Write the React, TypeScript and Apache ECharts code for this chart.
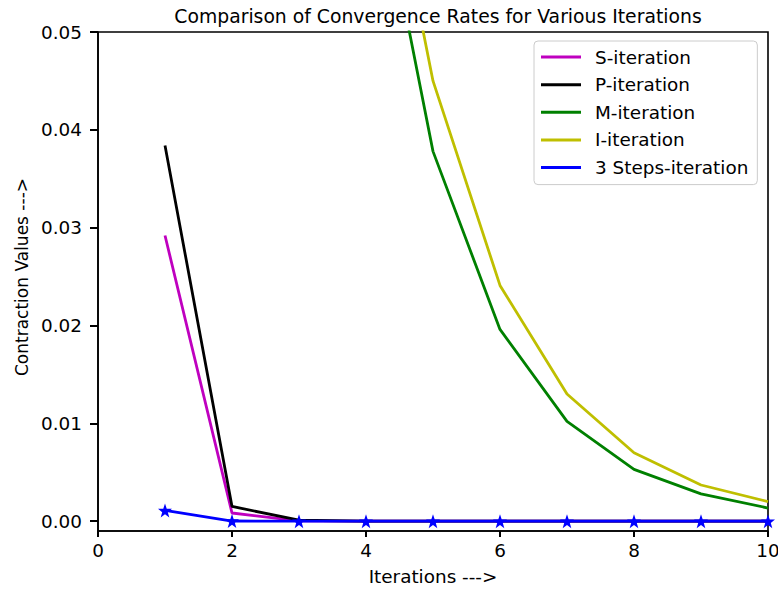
import React, { useEffect, useRef } from "react";
import * as echarts from "echarts";

const iterations = [1, 2, 3, 4, 5, 6, 7, 8, 9, 10];
const sIteration = [0.0292, 0.00084, 0.00003, 0.000001, 0, 0, 0, 0, 0, 0];
const pIteration = [0.0384, 0.00151, 0.0001, 0.000004, 0, 0, 0, 0, 0, 0];
const mIteration = [0.52, 0.27, 0.14, 0.0725, 0.0378, 0.0196, 0.0102, 0.0053, 0.0028, 0.00135];
const iIteration = [0.44, 0.25, 0.14, 0.0795, 0.045, 0.0241, 0.013, 0.007, 0.0037, 0.002];
const threeSteps = [0.0011, 0.00002, 0.000001, 0, 0, 0, 0, 0, 0, 0];

const yTicks = [0, 0.01, 0.02, 0.03, 0.04, 0.05];

const seriesNames = ["S-iteration", "P-iteration", "M-iteration", "I-iteration", "3 Steps-iteration"];
const seriesColors = ["#bf00bf", "#000000", "#008000", "#bfbf00", "#0000ff"];
const seriesData = [sIteration, pIteration, mIteration, iIteration, threeSteps];

const FONT = "DejaVu Sans";
const STAR =
  "path://M0,-10 L2.35,-3.24 L9.51,-3.09 L3.8,1.24 L5.88,8.09 L0,4 L-5.88,8.09 L-3.8,1.24 L-9.51,-3.09 L-2.35,-3.24 Z";

export default function App() {
  const ref = useRef<HTMLDivElement>(null);
  useEffect(() => {
    if (!ref.current) return;
    const chart = echarts.init(ref.current, null, { renderer: "svg" });
    chart.setOption({
      animation: false,
      backgroundColor: "#ffffff",
      title: {
        text: "Comparison of Convergence Rates for Various Iterations",
        left: 433,
        textAlign: "center",
        top: 2,
        textStyle: { fontFamily: FONT, fontSize: 18.8, fontWeight: "normal", color: "#000" },
      },
      graphic: [
        {
          type: "text",
          x: 22,
          y: 277,
          rotation: Math.PI / 2,
          style: {
            text: "Contraction Values --->",
            fontFamily: FONT,
            fontSize: 17,
            fill: "#000",
            align: "center",
            verticalAlign: "middle",
          },
        },
      ],
      grid: {
        left: 98,
        right: 10,
        top: 32,
        bottom: 60,
        outerBoundsMode: "none",
        containLabel: false,
        show: true,
        borderColor: "#000",
        borderWidth: 1.6,
        backgroundColor: "transparent",
      },
      legend: {
        left: 534,
        top: 41,
        orient: "vertical",
        icon: "rect",
        itemWidth: 40,
        itemHeight: 3,
        itemGap: 7.65,
        padding: [6, 9, 7, 7],
        backgroundColor: "#fff",
        borderColor: "#cccccc",
        borderWidth: 1,
        borderRadius: 4,
        textStyle: {
          fontFamily: FONT,
          fontSize: 18.4,
          color: "#000",
          lineHeight: 20,
          padding: [0, 0, 0, 9],
        },
        data: seriesNames,
      },
      xAxis: {
        type: "value",
        min: 0,
        max: 10,
        interval: 2,
        name: "Iterations --->",
        nameLocation: "middle",
        nameGap: 36,
        nameTextStyle: { fontFamily: FONT, fontSize: 18.4, color: "#000" },
        axisLine: { show: true, onZero: false, lineStyle: { color: "#000", width: 1.6 } },
        axisTick: { show: true, length: 6, lineStyle: { color: "#000", width: 2 } },
        axisLabel: { fontFamily: FONT, fontSize: 18.4, color: "#000", margin: 10 },
        splitLine: { show: false },
      },
      yAxis: {
        type: "value",
        min: -0.001,
        max: 0.05,
        axisLine: { show: true, onZero: false, lineStyle: { color: "#000", width: 1.6 } },
        axisTick: {
          show: true,
          length: 8,
          customValues: yTicks,
          lineStyle: { color: "#000", width: 2 },
        },
        axisLabel: {
          fontFamily: FONT,
          fontSize: 18.4,
          color: "#000",
          margin: 16,
          customValues: yTicks,
          formatter: (v: number) => v.toFixed(2),
        },
        splitLine: { show: false },
      },
      series: seriesNames.map((name, i) => ({
        name,
        type: "line",
        data: iterations.map((x, j) => [x, seriesData[i][j]]),
        symbol: i === 4 ? STAR : "none",
        symbolSize: 14,
        showSymbol: i === 4,
        clip: true,
        lineStyle: { color: seriesColors[i], width: 2.8 },
        itemStyle: { color: seriesColors[i] },
        z: 2 + i,
      })),
    });
    return () => chart.dispose();
  }, []);
  return (
    <div
      ref={ref}
      style={{ position: "fixed", left: 0, top: 0, width: 778, height: 591 }}
    />
  );
}
